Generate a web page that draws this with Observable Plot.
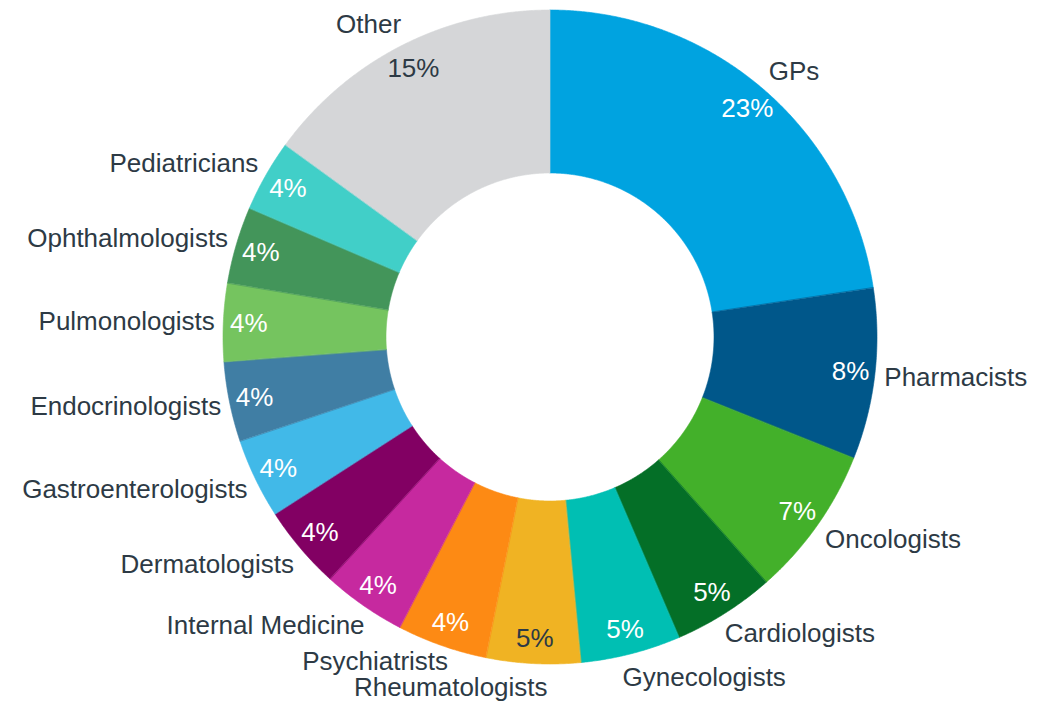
<!DOCTYPE html>
<html><head><meta charset="utf-8">
<script src="https://cdn.jsdelivr.net/npm/d3@7"></script>
<script src="https://cdn.jsdelivr.net/npm/@observablehq/plot@0.6"></script>
<style>body{margin:0;background:#fff}</style>
</head><body><div id="chart"></div>
<script>
// ---- data ----
const categories = ["GPs","Pharmacists","Oncologists","Cardiologists","Gynecologists","Rheumatologists","Psychiatrists","Internal Medicine","Dermatologists","Gastroenterologists","Endocrinologists","Pulmonologists","Ophthalmologists","Pediatricians","Other"];
const shares = [22.6, 8.45, 7.45, 5.05, 4.95, 4.65, 4.45, 4.15, 4.15, 3.95, 3.95, 3.85, 3.8, 3.55, 15.0];
const colors = ["#00A3E0","#00578A","#43B02A","#046F27","#00BFB3","#F0B323","#FD8A14","#C6299F","#820063","#41B9E8","#407EA4","#75C45F","#43955A","#41CFC8","#D5D6D8"];
const darkLabelSlices = ["Rheumatologists","Other"];

// ---- layout ----
const W = 1049, H = 708, cx = 550, cy = 337, R = 327, r = 164;
const FONT = "'Liberation Sans', Arial, sans-serif", FS = 26, TEXT = "#2d3a45";

const table = categories.map((c, i) => ({name: c, share: shares[i]}));
const arcs = d3.pie().sort(null).value(d => d.share)(table);

// area samples for each annular sector
const ring = [];
for (const a of arcs) {
  const n = Math.max(2, Math.ceil((a.endAngle - a.startAngle) / 0.005));
  for (let k = 0; k <= n; k++) {
    const t = a.startAngle + (a.endAngle - a.startAngle) * k / n;
    const s = Math.sin(t), c = Math.cos(t);
    ring.push({name: a.data.name, x1: cx + r * s, y1: cy - r * c, x2: cx + R * s, y2: cy - R * c});
  }
}

const ctx = document.createElement("canvas").getContext("2d");
ctx.font = `${FS}px ${FONT}`;

const labels = arcs.map(a => {
  const m = (a.startAngle + a.endAngle) / 2;
  const ux = Math.sin(m), uy = -Math.cos(m);
  const px = cx + (R + 9) * ux, py = cy + (R + 9) * uy;
  const w = ctx.measureText(a.data.name).width;
  const shift = 0.075 * w * Math.max(0, (Math.abs(uy) - 0.7) / 0.3);
  const right = ux >= 0;
  const lx = px - Math.sign(ux) * shift;
  return {
    name: a.data.name,
    pct: Math.round(a.data.share) + "%",
    side: right ? "right" : "left",
    lx, ly: py + uy * 15,
    x0: right ? lx : lx - w, x1: right ? lx + w : lx,
    vx: cx + 302 * ux,
    vy: cy + 302 * uy
  };
});

// simple collision avoidance between neighbouring outside labels
const LH = FS;
function resolve(list, dir) {
  for (let i = 1; i < list.length; i++) {
    const p = list[i - 1], c = list[i];
    if (c.x0 < p.x1 && p.x0 < c.x1) {
      if (dir < 0 && c.ly + LH / 2 > p.ly - LH / 2) c.ly = p.ly - LH;
      if (dir > 0 && c.ly - LH / 2 < p.ly + LH / 2) c.ly = p.ly + LH;
    }
  }
}
resolve(labels.filter(d => d.side === "left").sort((a, b) => b.ly - a.ly), -1);
resolve(labels.filter(d => d.side === "right").sort((a, b) => a.ly - b.ly), 1);

const plot = Plot.plot({
  width: W, height: H,
  margin: 0,
  x: {domain: [0, W], range: [0, W], axis: null},
  y: {domain: [0, H], range: [0, H], axis: null},
  color: {domain: categories, range: colors},
  style: {fontFamily: FONT, background: "#fff"},
  marks: [
    Plot.area(ring, {x1: "x1", y1: "y1", x2: "x2", y2: "y2", z: "name", fill: "name", stroke: "name", strokeWidth: 0.6}),
    Plot.text(labels.filter(d => !darkLabelSlices.includes(d.name)), {x: "vx", y: "vy", text: "pct", fill: "white", fontSize: FS, fontFamily: FONT}),
    Plot.text(labels.filter(d => darkLabelSlices.includes(d.name)), {x: "vx", y: "vy", text: "pct", fill: TEXT, fontSize: FS, fontFamily: FONT}),
    Plot.text(labels.filter(d => d.side === "right"), {x: "lx", y: "ly", text: "name", textAnchor: "start", fill: TEXT, fontSize: FS, fontFamily: FONT}),
    Plot.text(labels.filter(d => d.side === "left"), {x: "lx", y: "ly", text: "name", textAnchor: "end", fill: TEXT, fontSize: FS, fontFamily: FONT})
  ]
});
document.getElementById("chart").appendChild(plot);
</script>
</body></html>
